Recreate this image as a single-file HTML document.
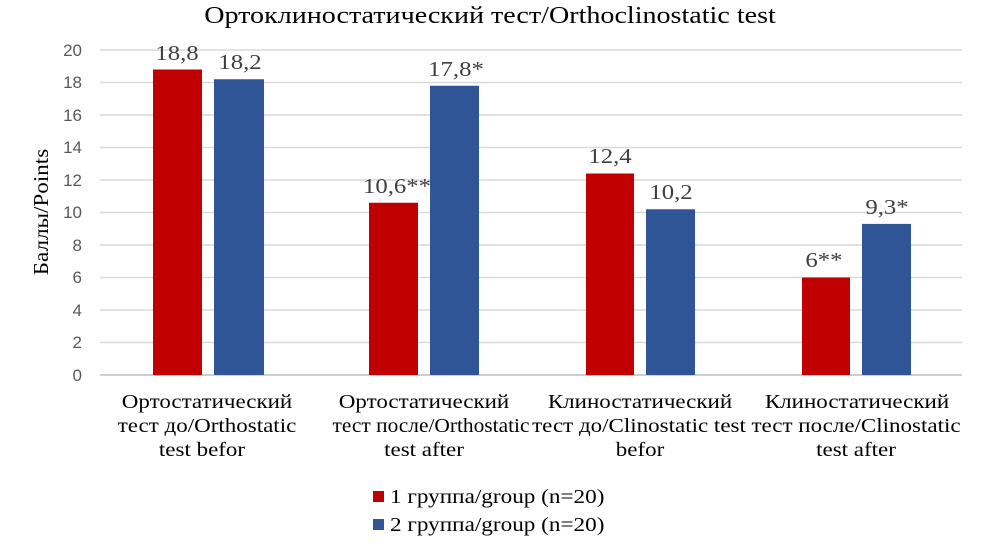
<!DOCTYPE html>
<html><head><meta charset="utf-8"><style>body{margin:0;background:#fff}svg{display:block}</style></head><body>
<svg width="983" height="544" xmlns="http://www.w3.org/2000/svg">
<rect width="983" height="544" fill="#fff"/>
<text transform="translate(490,23) scale(1.17,1)" font-family="Liberation Serif, serif" font-size="24" text-anchor="middle" fill="#000">Ортоклиностатический тест/Orthoclinostatic test</text>
<g stroke="#d9d9d9" stroke-width="1.5">
<line x1="100" x2="962" y1="50" y2="50"/><line x1="100" x2="962" y1="82.5" y2="82.5"/><line x1="100" x2="962" y1="115" y2="115"/><line x1="100" x2="962" y1="147.5" y2="147.5"/><line x1="100" x2="962" y1="180" y2="180"/><line x1="100" x2="962" y1="212.5" y2="212.5"/><line x1="100" x2="962" y1="245" y2="245"/><line x1="100" x2="962" y1="277.5" y2="277.5"/><line x1="100" x2="962" y1="310" y2="310"/><line x1="100" x2="962" y1="342.5" y2="342.5"/><line x1="100" x2="962" y1="375" y2="375" stroke="#bfbfbf"/>
</g>
<g font-family="Liberation Sans, sans-serif" font-size="17" fill="#595959" text-anchor="end">
<text x="82" y="56">20</text><text x="82" y="88">18</text><text x="82" y="121">16</text><text x="82" y="153">14</text><text x="82" y="186">12</text><text x="82" y="218">10</text><text x="82" y="251">8</text><text x="82" y="283">6</text><text x="82" y="316">4</text><text x="82" y="348">2</text><text x="82" y="381">0</text>
</g>
<text transform="translate(48,212) rotate(-90) scale(1.1,1)" font-family="Liberation Serif, serif" font-size="21" text-anchor="middle" fill="#000">Баллы/Points</text>
<g fill="#c00000">
<rect x="153" y="69.5" width="49" height="305.5"/><rect x="369" y="202.75" width="49" height="172.25"/><rect x="586" y="173.5" width="48" height="201.5"/><rect x="802" y="277.5" width="48" height="97.5"/>
</g>
<g fill="#2f5597">
<rect x="214" y="79.25" width="50" height="295.75"/><rect x="430" y="85.75" width="49" height="289.25"/><rect x="646" y="209.25" width="49" height="165.75"/><rect x="862" y="223.9" width="49" height="151.1"/>
</g>
<g font-family="Liberation Serif, serif" font-size="21" fill="#404040" text-anchor="middle">
<text transform="translate(177,60) scale(1.18,1)">18,8</text><text transform="translate(240,69) scale(1.18,1)">18,2</text>
<text transform="translate(397,193) scale(1.18,1)">10,6**</text><text transform="translate(456,76) scale(1.18,1)">17,8*</text>
<text transform="translate(610,163) scale(1.18,1)">12,4</text><text transform="translate(671,199) scale(1.18,1)">10,2</text>
<text transform="translate(824,267) scale(1.18,1)">6**</text><text transform="translate(887,214) scale(1.18,1)">9,3*</text>
</g>
<g font-family="Liberation Serif, serif" font-size="20" fill="#000" text-anchor="middle">
<text transform="translate(207,408) scale(1.15,1)">Ортостатический</text><text transform="translate(207,432) scale(1.15,1)">тест до/Orthostatic</text><text transform="translate(202,456) scale(1.15,1)">test befor</text>
<text transform="translate(424,408) scale(1.15,1)">Ортостатический</text><text transform="translate(431,432) scale(1.07,1)">тест после/Orthostatic</text><text transform="translate(424,456) scale(1.15,1)">test after</text>
<text transform="translate(640,408) scale(1.15,1)">Клиностатический</text><text transform="translate(639,432) scale(1.15,1)">тест до/Clinostatic test</text><text transform="translate(640,456) scale(1.15,1)">befor</text>
<text transform="translate(857,408) scale(1.15,1)">Клиностатический</text><text transform="translate(856,432) scale(1.15,1)">тест после/Clinostatic</text><text transform="translate(856,456) scale(1.15,1)">test after</text>
</g>
<rect x="373" y="491" width="11" height="11" fill="#c00000"/>
<rect x="373" y="519" width="11" height="11" fill="#2f5597"/>
<g font-family="Liberation Serif, serif" font-size="20" fill="#000">
<text transform="translate(390,503) scale(1.16,1)">1 группа/group (n=20)</text>
<text transform="translate(390,531) scale(1.16,1)">2 группа/group (n=20)</text>
</g>
</svg>
</body></html>
